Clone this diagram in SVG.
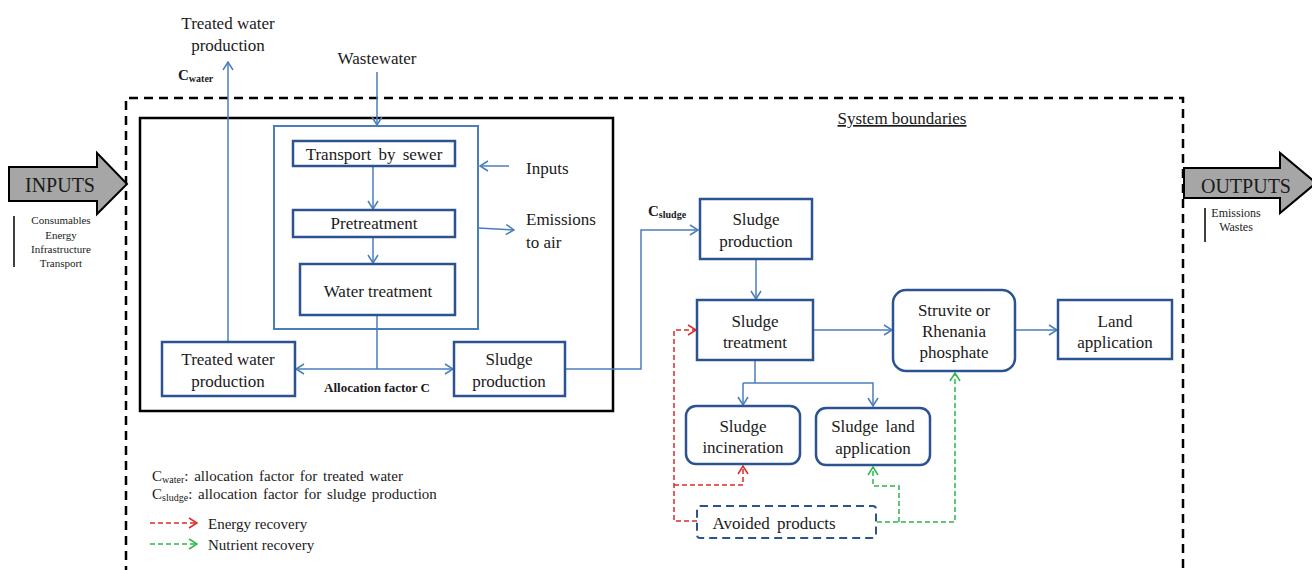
<svg xmlns="http://www.w3.org/2000/svg" width="1312" height="570" viewBox="0 0 1312 570" font-family="'Liberation Serif', 'Times New Roman', serif">
<defs>
<style>
text{font-family:'Liberation Serif', 'Times New Roman', serif;fill:#1a1a1a;}
.t{font-size:17px;text-anchor:middle;}
.s{font-size:11px;text-anchor:middle;}
.box{fill:#fff;stroke:#2c5391;stroke-width:2.5;}
.ln{fill:none;stroke:#4a7ebb;stroke-width:1.5;}
.red{fill:none;stroke:#d92b2b;stroke-width:1.5;stroke-dasharray:5,3;}
.grn{fill:none;stroke:#2db84d;stroke-width:1.5;stroke-dasharray:5,3;}
.big{fill:#a6a6a6;stroke:#000;stroke-width:2;}
.lg{font-size:15px;}
</style>
<marker id="ab" markerWidth="10" markerHeight="12" refX="9" refY="6" orient="auto" markerUnits="userSpaceOnUse"><path d="M1,1 L9,6 L1,11" fill="none" stroke="#4a7ebb" stroke-width="1.5"/></marker>
<marker id="ar" markerWidth="10" markerHeight="12" refX="9" refY="6" orient="auto" markerUnits="userSpaceOnUse"><path d="M1,1 L9,6 L1,11" fill="none" stroke="#d92b2b" stroke-width="1.5"/></marker>
<marker id="ag" markerWidth="10" markerHeight="12" refX="9" refY="6" orient="auto" markerUnits="userSpaceOnUse"><path d="M1,1 L9,6 L1,11" fill="none" stroke="#2db84d" stroke-width="1.5"/></marker>
</defs>
<rect width="1312" height="570" fill="#fff"/>

<!-- system boundary -->
<path d="M126,575 L126,98 L1183,98 L1183,575" fill="none" stroke="#000" stroke-width="2.5" stroke-dasharray="9,6"/>
<text x="902" y="124" style="font-size:17px;text-anchor:middle;text-decoration:underline;">System boundaries</text>

<!-- inputs -->
<g id="inputs">
<path class="big" d="M9,167 L97,167 L97,153 L127,184 L97,214 L97,201 L9,201 Z"/>
<text x="60" y="192" style="font-size:20px;text-anchor:middle;">INPUTS</text>
<line x1="14" y1="216" x2="14" y2="267" stroke="#000" stroke-width="1.5"/>
<text class="s" x="61" y="224">Consumables</text>
<text class="s" x="61" y="239">Energy</text>
<text class="s" x="61" y="253">Infrastructure</text>
<text class="s" x="61" y="267">Transport</text>
</g>
<g id="outputs">
<path class="big" d="M1184,168 L1280,168 L1280,153 L1316,183 L1280,213 L1280,198 L1184,198 Z"/>
<text x="1246" y="193" style="font-size:20px;text-anchor:middle;">OUTPUTS</text>
<line x1="1205" y1="208" x2="1205" y2="242" stroke="#000" stroke-width="1.5"/>
<text class="s" x="1236" y="217" style="font-size:12px;">Emissions</text>
<text class="s" x="1236" y="231" style="font-size:12px;">Wastes</text>
</g>

<!-- inner boxes -->
<rect id="wwtp" x="140" y="118" width="473" height="293" fill="none" stroke="#000" stroke-width="2.5"/>
<rect id="plant" x="274" y="126" width="204" height="203" fill="none" stroke="#4a7ebb" stroke-width="2"/>

<g id="connectors">
<line class="ln" x1="377" y1="72" x2="377" y2="125" marker-end="url(#ab)"/>
<line class="ln" x1="228" y1="342" x2="228" y2="62" marker-end="url(#ab)"/>
<line class="ln" x1="373" y1="166" x2="373" y2="209" marker-end="url(#ab)"/>
<line class="ln" x1="373" y1="237" x2="373" y2="263" marker-end="url(#ab)"/>
<line class="ln" x1="509" y1="166" x2="480" y2="166" marker-end="url(#ab)"/>
<line class="ln" x1="478" y1="228" x2="514" y2="230" marker-end="url(#ab)"/>
<line class="ln" x1="377" y1="315" x2="377" y2="369"/>
<line class="ln" x1="377" y1="369" x2="296" y2="369" marker-end="url(#ab)"/>
<line class="ln" x1="377" y1="369" x2="453" y2="369" marker-end="url(#ab)"/>
<polyline class="ln" points="565,369 641,369 641,230 698,230" marker-end="url(#ab)"/>
<line class="ln" x1="756" y1="259" x2="756" y2="299" marker-end="url(#ab)"/>
<line class="ln" x1="813" y1="330" x2="892" y2="330" marker-end="url(#ab)"/>
<line class="ln" x1="1015" y1="330" x2="1057" y2="330" marker-end="url(#ab)"/>
<polyline class="ln" points="755,360 755,383"/>
<polyline class="ln" points="743,383 873,383 873,406" marker-end="url(#ab)"/>
<line class="ln" x1="743" y1="383" x2="743" y2="405" marker-end="url(#ab)"/>
<polyline class="red" points="697,521 674,521 674,330 696,330" marker-end="url(#ar)"/>
<polyline class="red" points="674,485 743,485 743,466" marker-end="url(#ar)"/>
<polyline class="grn" points="877,522 955,522 955,373" marker-end="url(#ag)"/>
<polyline class="grn" points="899,522 899,486 873,486 873,467" marker-end="url(#ag)"/>
</g>

<g id="labels">
<text x="228" y="29" class="t">Treated water</text>
<text x="228" y="51" class="t">production</text>
<text x="178" y="80" style="font-size:15px;font-weight:bold;">C<tspan style="font-size:10px;" dy="2">water</tspan></text>
<text x="377" y="64" class="t">Wastewater</text>
<text x="526" y="174" style="font-size:17px;">Inputs</text>
<text x="526" y="225" style="font-size:17px;">Emissions</text>
<text x="526" y="248" style="font-size:17px;">to air</text>
<text x="377" y="392" style="font-size:13px;font-weight:bold;text-anchor:middle;">Allocation factor C</text>
<text x="648" y="216" style="font-size:15px;font-weight:bold;">C<tspan style="font-size:10px;" dy="2">sludge</tspan></text>
</g>

<g id="nodes">
<g id="transport"><rect class="box" x="293" y="141" width="162" height="25"/><text class="t" x="374" y="160" style="word-spacing:3px">Transport by sewer</text></g>
<g id="pretreatment"><rect class="box" x="293" y="210" width="162" height="27"/><text class="t" x="374" y="229">Pretreatment</text></g>
<g id="watertreatment"><rect class="box" x="300" y="264" width="155" height="51"/><text class="t" x="378" y="297">Water treatment</text></g>
<g id="treatedwater"><rect class="box" x="162" y="342" width="133" height="54"/><text class="t" x="228" y="365">Treated water</text><text class="t" x="228" y="387">production</text></g>
<g id="sludgeprod1"><rect class="box" x="454" y="342" width="111" height="54"/><text class="t" x="509" y="365">Sludge</text><text class="t" x="509" y="387">production</text></g>
<g id="sludgeprod2"><rect class="box" x="700" y="199" width="112" height="60"/><text class="t" x="756" y="225">Sludge</text><text class="t" x="756" y="247">production</text></g>
<g id="sludgetreat"><rect class="box" x="697" y="300" width="116" height="60"/><text class="t" x="755" y="327">Sludge</text><text class="t" x="755" y="348">treatment</text></g>
<g id="struvite"><rect class="box" x="893" y="290" width="122" height="81" rx="13"/><text class="t" x="954" y="316">Struvite or</text><text class="t" x="954" y="337">Rhenania</text><text class="t" x="954" y="358">phosphate</text></g>
<g id="landapp"><rect class="box" x="1058" y="300" width="114" height="59"/><text class="t" x="1115" y="327">Land</text><text class="t" x="1115" y="348">application</text></g>
<g id="incin"><rect class="box" x="686" y="406" width="114" height="58" rx="10"/><text class="t" x="743" y="432">Sludge</text><text class="t" x="743" y="453">incineration</text></g>
<g id="sludgeland"><rect class="box" x="816" y="408" width="114" height="57" rx="10"/><text class="t" x="873" y="432" style="word-spacing:3px">Sludge land</text><text class="t" x="873" y="454">application</text></g>
<g id="avoided"><rect x="697" y="506" width="179" height="32" rx="3" fill="#fff" stroke="#2c5391" stroke-width="2" stroke-dasharray="8,5"/><text class="t" x="774" y="529" style="word-spacing:3px">Avoided products</text></g>
</g>

<g id="legend">
<text x="152" y="481" class="lg" style="word-spacing:2px">C<tspan style="font-size:10px;" dy="2">water</tspan><tspan dy="-2">: allocation factor for treated water</tspan></text>
<text x="152" y="499" class="lg" style="word-spacing:2px">C<tspan style="font-size:10px;" dy="2">sludge</tspan><tspan dy="-2">: allocation factor for sludge production</tspan></text>
<line class="red" x1="150" y1="523" x2="197" y2="523" marker-end="url(#ar)"/>
<text x="208" y="529" class="lg">Energy recovery</text>
<line class="grn" x1="150" y1="544" x2="197" y2="544" marker-end="url(#ag)"/>
<text x="208" y="550" class="lg">Nutrient recovery</text>
</g>
</svg>
